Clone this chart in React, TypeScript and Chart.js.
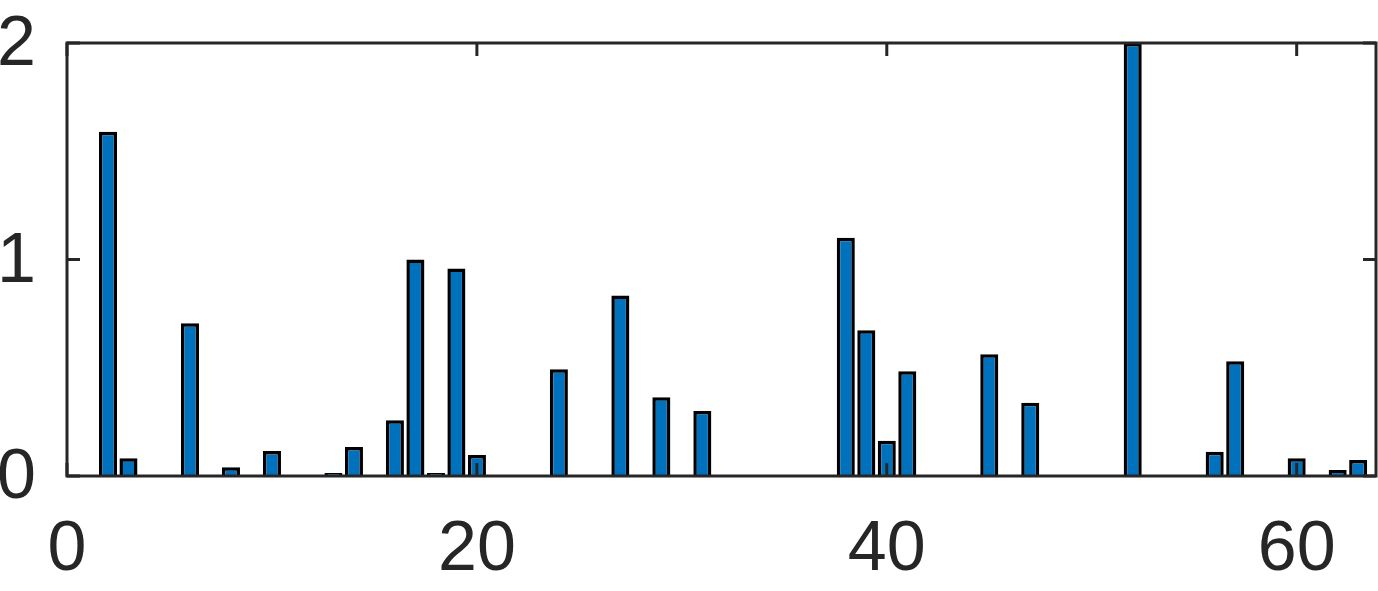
import React, { useEffect, useRef } from "react";
import { Chart, registerables } from "chart.js";

Chart.register(...registerables);

const barPositions = [2, 3, 6, 8, 10, 13, 14, 16, 17, 18, 19, 20, 24, 27, 29, 31, 38, 39, 40, 41, 45, 47, 52, 56, 57, 60, 62, 63];
const barValues = [1.59, 0.082, 0.705, 0.04, 0.115, 0.014, 0.134, 0.258, 1.0, 0.014, 0.958, 0.097, 0.493, 0.834, 0.364, 0.3, 1.1, 0.673, 0.163, 0.484, 0.562, 0.338, 2.0, 0.112, 0.53, 0.082, 0.028, 0.074];
const xTickValues = [0, 20, 40, 60];
const yTickValues = [0, 1, 2];

const AXIS_COLOR = "#262626";
const FONT_FAMILY = "'Liberation Sans', Arial, Helvetica, sans-serif";

const framePlugin = {
  id: "matlabFrame",
  afterDatasetsDraw(chart: any) {
    const { ctx, chartArea, scales } = chart;
    const { left, right, top, bottom } = chartArea;
    const tl = 13;
    ctx.save();
    ctx.strokeStyle = AXIS_COLOR;
    ctx.lineWidth = 3;
    ctx.beginPath();
    for (const t of scales.x.ticks) {
      const px = scales.x.getPixelForValue(t.value);
      ctx.moveTo(px, bottom);
      ctx.lineTo(px, bottom - tl);
      ctx.moveTo(px, top);
      ctx.lineTo(px, top + tl);
    }
    for (const t of scales.y.ticks) {
      const py = scales.y.getPixelForValue(t.value);
      ctx.moveTo(left, py);
      ctx.lineTo(left + tl, py);
      ctx.moveTo(right, py);
      ctx.lineTo(right - tl, py);
    }
    ctx.stroke();
    ctx.lineJoin = "miter";
    ctx.strokeRect(left, top, right - left, bottom - top);
    ctx.restore();
  },
};

export default function App() {
  const canvasRef = useRef<HTMLCanvasElement | null>(null);

  useEffect(() => {
    if (!canvasRef.current) return;
    const chart = new Chart(canvasRef.current, {
      type: "bar",
      data: {
        datasets: [
          {
            data: barPositions.map((x, i) => ({ x, y: barValues[i] })),
            backgroundColor: "#0072BD",
            borderColor: "#000000",
            borderWidth: 3.5,
            borderSkipped: "bottom",
            barPercentage: 0.88,
            categoryPercentage: 1,
          },
        ],
      },
      options: {
        animation: false,
        responsive: true,
        maintainAspectRatio: false,
        layout: { padding: { top: 43, right: 2, left: 0, bottom: 0 } },
        plugins: { legend: { display: false }, tooltip: { enabled: false } },
        scales: {
          x: {
            type: "linear",
            min: 0,
            max: 63.87,
            offset: false,
            grid: { display: false, drawTicks: false },
            border: { display: false },
            afterBuildTicks: (scale: any) => {
              scale.ticks = xTickValues.map((v) => ({ value: v }));
            },
            afterFit: (scale: any) => {
              scale.height = 115;
              scale.paddingLeft = 0;
              scale.paddingRight = 0;
              scale.paddingTop = 0;
              scale.paddingBottom = 0;
            },
            ticks: {
              padding: 33,
              maxRotation: 0,
              autoSkip: false,
              color: AXIS_COLOR,
              font: { family: FONT_FAMILY, size: 70, lineHeight: 1.2 },
            },
          },
          y: {
            type: "linear",
            min: 0,
            max: 2,
            grid: { display: false, drawTicks: false },
            border: { display: false },
            afterBuildTicks: (scale: any) => {
              scale.ticks = yTickValues.map((v) => ({ value: v }));
            },
            afterFit: (scale: any) => {
              scale.width = 67;
              scale.paddingLeft = 0;
              scale.paddingRight = 0;
              scale.paddingTop = 0;
              scale.paddingBottom = 0;
            },
            ticks: {
              padding: 31,
              labelOffset: 3,
              color: AXIS_COLOR,
              font: { family: FONT_FAMILY, size: 70, lineHeight: 1.2 },
            },
          },
        },
      },
      plugins: [framePlugin],
    } as any);
    return () => chart.destroy();
  }, []);

  return (
    <div style={{ position: "absolute", left: 0, top: 0, width: 1378, height: 591, background: "#ffffff" }}>
      <canvas ref={canvasRef} />
    </div>
  );
}
